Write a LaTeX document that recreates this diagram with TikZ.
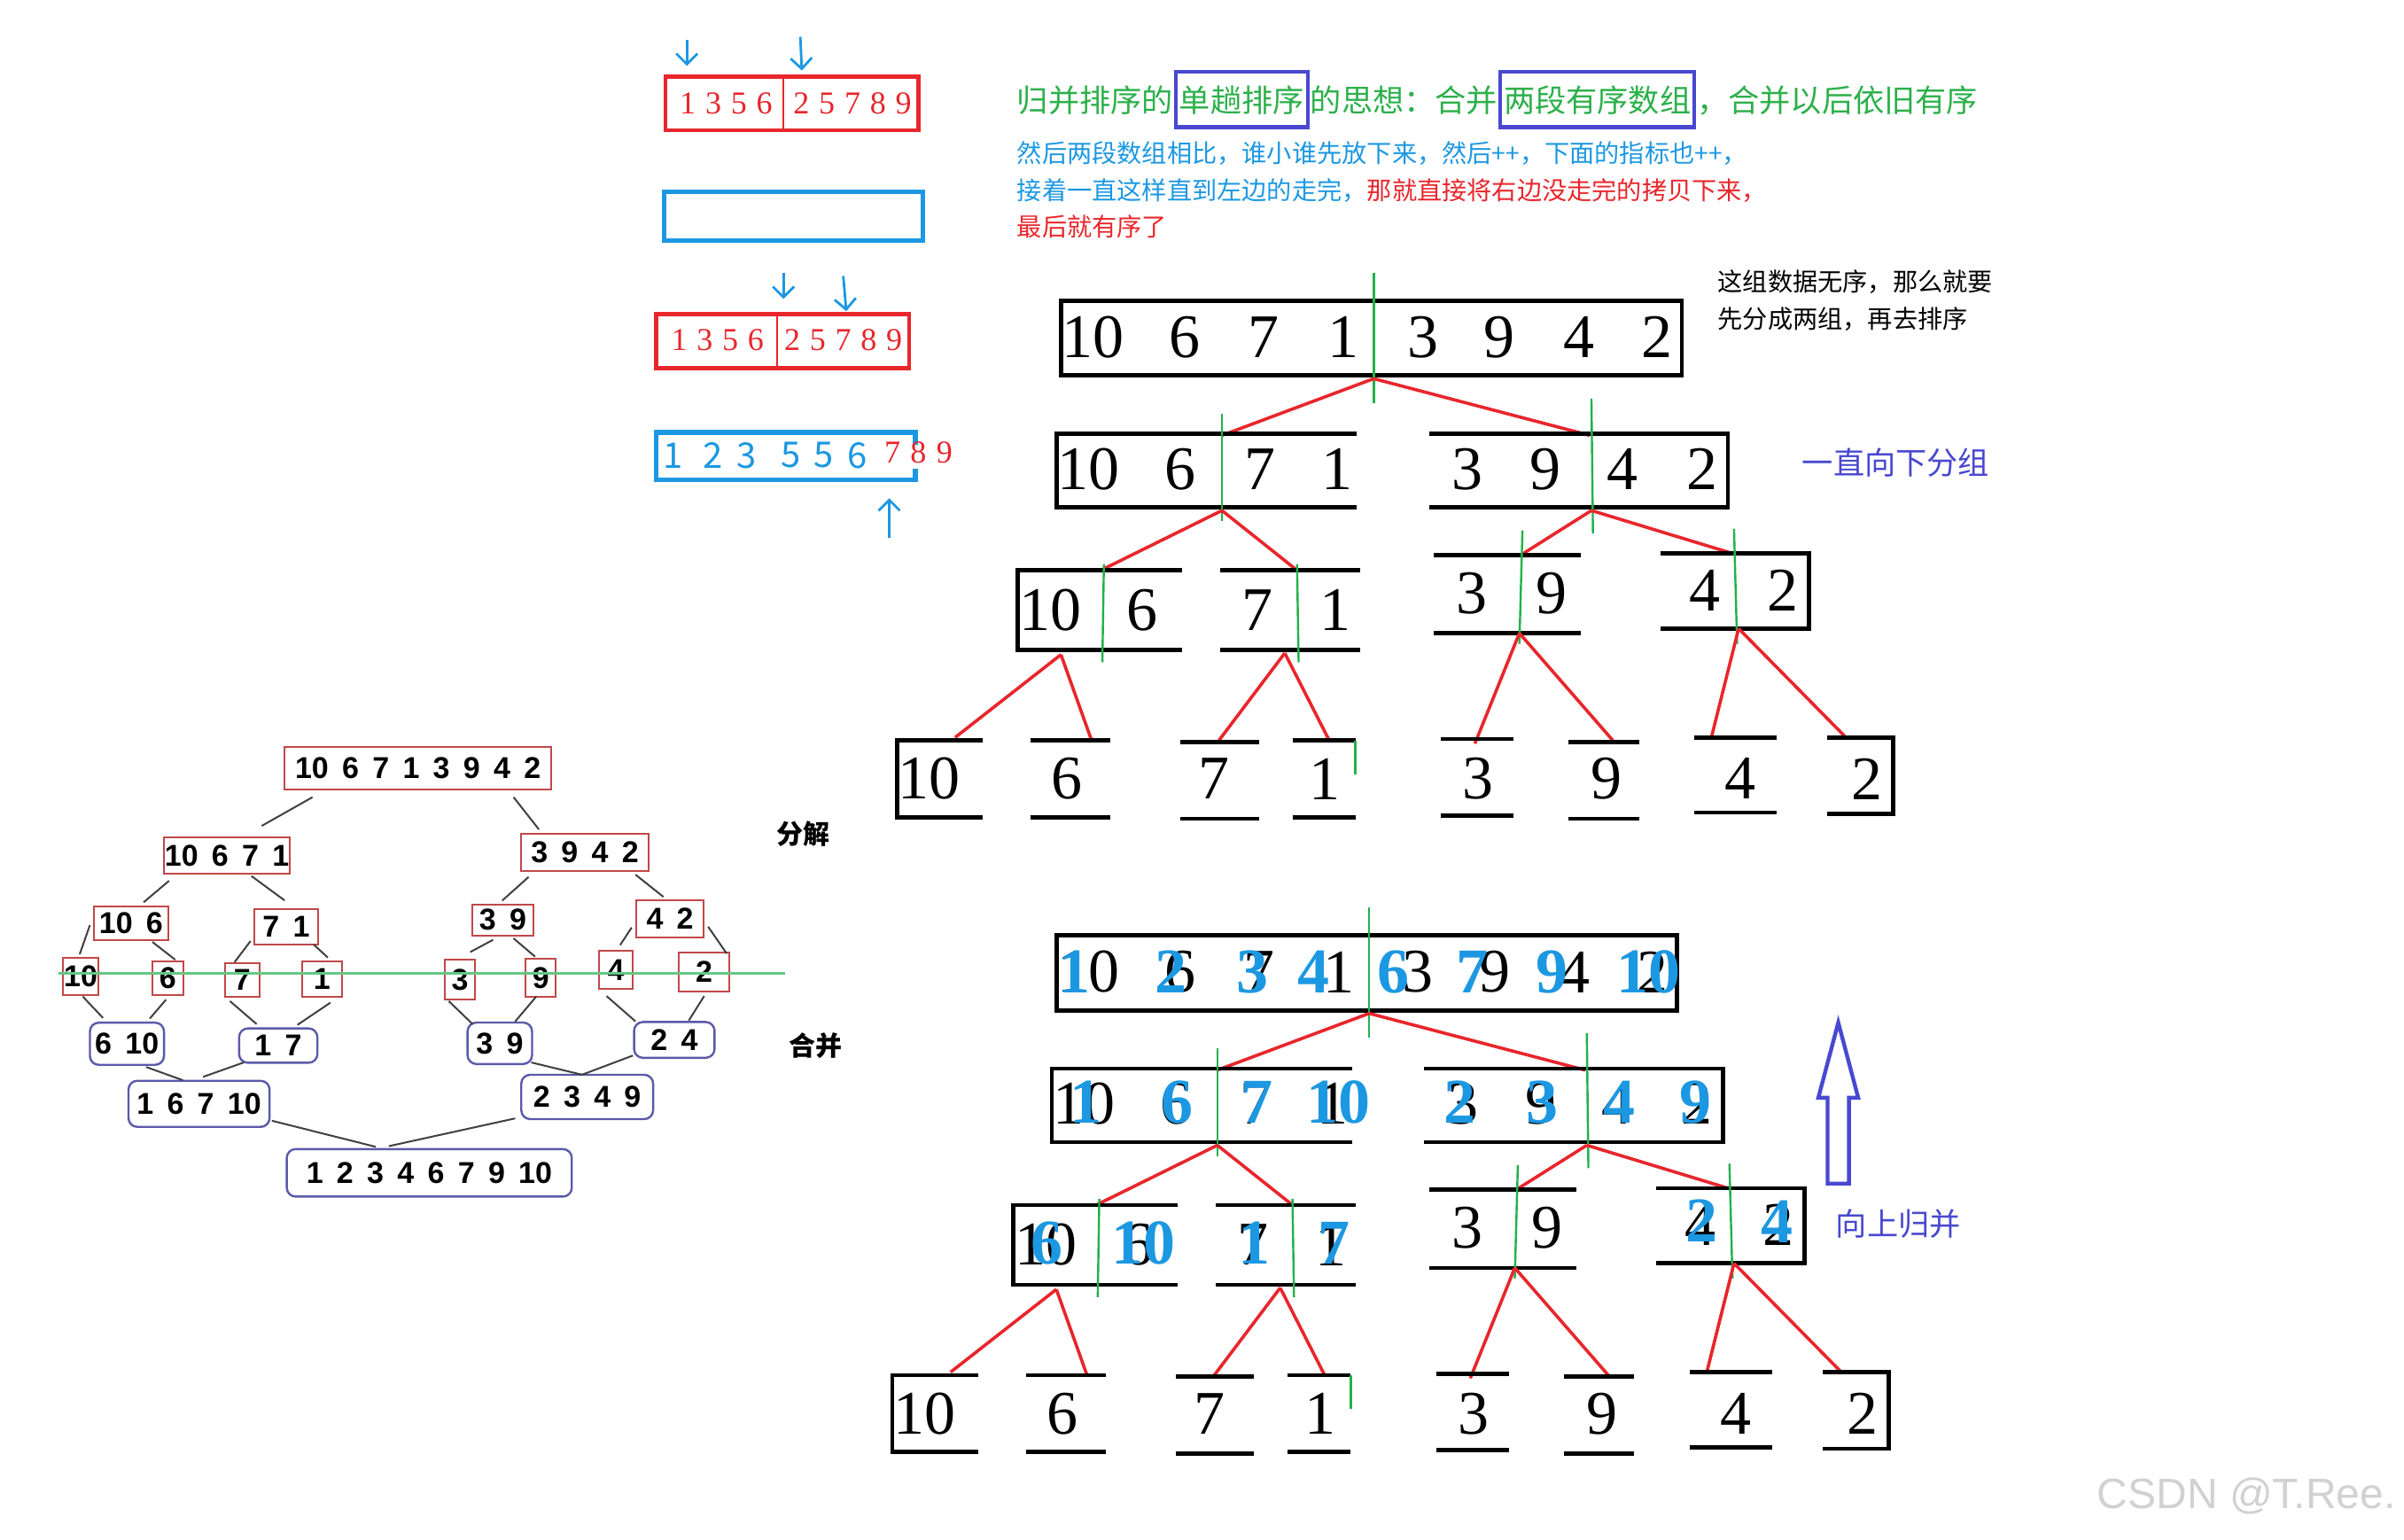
\documentclass[tikz,border=0pt]{standalone}
\usepackage{fontspec}
\setmainfont{Liberation Serif}
\setsansfont{Liberation Sans}
\newfontfamily\cjk{Noto Sans CJK SC}
\usetikzlibrary{positioning,arrows.meta}

\definecolor{tgreen}{HTML}{2DB04B}
\definecolor{tblue}{HTML}{1C98E2}
\definecolor{tred}{HTML}{E8262C}
\definecolor{bbox}{HTML}{4848D0}
\definecolor{lgreen}{HTML}{22B14C}
\definecolor{dvred}{HTML}{C04848}
\definecolor{mgblue}{HTML}{5A5AAA}

\tikzset{
  dig/.style={font=\fontsize{17.5}{17.5}\selectfont, inner sep=0pt},
  bdig/.style={font=\bfseries\fontsize{18}{18}\selectfont, text=tblue, inner sep=0pt},
  blk/.style={line width=1.2pt},
  gline/.style={lgreen, line width=0.6pt},
  rline/.style={tred, line width=0.9pt},
  hand/.style={tblue, line width=0.7pt, >={Straight Barb[length=3pt,width=6pt]}},
  rbox/.style={tred, line width=1.2pt},
  bbx/.style={tblue, line width=1.3pt},
  rnum/.style={text=tred, inner sep=0pt, font=\fontsize{9}{9}\selectfont\spaceskip.3em\relax},
  hnum/.style={text=tblue, inner sep=0pt, font=\cjk\fontsize{10}{10}\selectfont},
  gtxt/.style={text=tgreen, inner xsep=0pt, inner ysep=2.8pt, text height=0.85em, text depth=0.15em,
    font=\cjk\fontsize{8.8}{8.8}\selectfont},
  hbox/.style={draw=bbox, line width=1.1pt, inner xsep=1pt},
  note/.style={inner sep=0pt, font=\cjk\fontsize{7.05}{7.05}\selectfont},
  dv/.style={draw=dvred, line width=0.5pt, fill=white, inner sep=0pt,
    font=\sffamily\bfseries\fontsize{8.5}{9}\selectfont\spaceskip.45em\relax},
  mg/.style={draw=mgblue, line width=0.6pt, rounded corners=2.5pt, fill=white, inner sep=0pt,
    font=\sffamily\bfseries\fontsize{8.5}{9}\selectfont\spaceskip.45em\relax},
  tl/.style={draw=black!75, line width=0.5pt},
}

% one split tree, #1 prefixes the node names
\newcommand{\splittree}[1]{%
  \draw[blk] (692,196) rectangle (1097,245);
  \foreach \x/\nm [count=\i] in {713/10,773/6,824/7,876/1,928/3,978/9,1030/4,1081/2}
    \node[dig] (#1r\i) at (\x,220) {\nm};
  \draw[gline] (896,178) -- (896,263);
  \draw[rline] (896,247) -- (797,284);
  \draw[rline] (896,247) -- (1037,284);
  % halves
  \draw[blk] (885,283) -- (689,283) -- (689,331) -- (885,331);
  \draw[blk] (932,283) -- (1127,283) -- (1127,331) -- (932,331);
  \foreach \x/\nm [count=\i] in {710/10,770/6,822/7,872/1,957/3,1008/9,1058/4,1110/2}
    \node[dig] (#1h\i) at (\x,306) {\nm};
  \draw[gline] (797,270) -- (797,340);
  \draw[gline] (1038,260) -- (1039,348);
  \draw[rline] (797,333) -- (718,372);
  \draw[rline] (797,333) -- (846,372);
  \draw[rline] (1038,333) -- (992,362);
  \draw[rline] (1038,333) -- (1130,361);
  % pairs
  \draw[blk] (771,372) -- (664,372) -- (664,424) -- (771,424);
  \draw[blk] (796,372) -- (887,372) (796,424) -- (887,424);
  \draw[blk] (935,362) -- (1031,362) (935,413) -- (1031,413);
  \draw[blk] (1083,361) -- (1180,361) -- (1180,410) -- (1083,410);
  \node[dig] (#1p1) at (685,398) {10};
  \node[dig] (#1p2) at (745,398) {6};
  \node[dig] (#1p3) at (820,398) {7};
  \node[dig] (#1p4) at (871,398) {1};
  \node[dig] (#1p5) at (960,387) {3};
  \node[dig] (#1p6) at (1012,387) {9};
  \node[dig] (#1p7) at (1112,385) {4};
  \node[dig] (#1p8) at (1163,385) {2};
  \draw[gline] (720,368) -- (719,432);
  \draw[gline] (846,368) -- (847,432);
  \draw[gline] (993,346) -- (991,420);
  \draw[gline] (1131,345) -- (1133,420);
  \draw[rline] (692,427) -- (623,481);
  \draw[rline] (692,427) -- (712,483);
  \draw[rline] (838,426) -- (795,483);
  \draw[rline] (838,426) -- (867,483);
  \draw[rline] (991,413) -- (962,485);
  \draw[rline] (991,413) -- (1052,483);
  \draw[rline] (1134,410) -- (1116,482);
  \draw[rline] (1134,410) -- (1203,480);
  % single elements
  \draw[blk] (641,483) -- (585,483) -- (585,533) -- (641,533);
  \draw[blk] (672,483) -- (724,483) (672,533) -- (724,533);
  \draw[blk] (770,484) -- (821,484) (770,534) -- (821,534);
  \draw[blk] (843,483) -- (884,483) (843,533) -- (884,533);
  \draw[blk] (940,482) -- (987,482) (940,532) -- (987,532);
  \draw[blk] (1023,484) -- (1069,484) (1023,534) -- (1069,534);
  \draw[blk] (1105,481) -- (1159,481) (1105,530) -- (1159,530);
  \draw[blk] (1192,481) -- (1235,481) -- (1235,531) -- (1192,531);
  \draw[gline] (884,483) -- (884,505);
  \foreach \x/\nm [count=\i] in {606/10,696/6,792/7,864/1,964/3,1048/9,1135/4,1218/2}
    \node[dig] (#1s\i) at (\x,508) {\nm};
}

\begin{document}
\begin{tikzpicture}[x=0.4325pt, y=-0.4325pt]
\fill[white] (0,0) rectangle (1568,1004);
\useasboundingbox (0,0) rectangle (1568,1004);

% merge step with two pointers
\draw[hand,->] (448,26) -- (448,43);
\draw[hand,->] (522,24) -- (523,46);
\draw[rbox] (434,50) rectangle (599,85);
\draw[tred, line width=0.5pt] (511,50) -- (511,85);
\node[rnum] (ra1) at (473.6,67.5) {1 3 5 6};
\node[rnum] (ra2) at (556,67.5) {2 5 7 8 9};
\draw[bbx] (433,125) rectangle (602,157);

\draw[hand,->] (511,178) -- (511,195);
\draw[hand,->] (550,180) -- (552,203);
\draw[rbox] (428,205) rectangle (593,240);
\draw[tred, line width=0.5pt] (507,205) -- (507,240);
\node[rnum] (rb1) at (468,222) {1 3 5 6};
\node[rnum] (rb2) at (550,222) {2 5 7 8 9};

\draw[bbx] (597,290) -- (597,282) -- (428,282) -- (428,313) -- (597,313) -- (597,306);
\foreach \x/\nm [count=\i] in {439/1,465/2,487/3,516/5,537/5,559/6}
  \node[hnum] (hb\i) at (\x,297) {\nm};
\foreach \x/\nm [count=\i] in {582/7,599/8,616/9}
  \node[rnum] (hr\i) at (\x,295) {\nm};
\draw[hand,->] (580,351) -- (580,325);

% notes
\node[gtxt, anchor=west] (g1) at (663,65) {归并排序的};
\node[gtxt, hbox, right=0pt of g1] (g2) {单趟排序};
\node[gtxt, right=0pt of g2] (g3) {的思想：合并};
\node[gtxt, hbox, right=0pt of g3] (g4) {两段有序数组};
\node[gtxt, right=0pt of g4] (g5) {，合并以后依旧有序};
\node[note, text=tblue, anchor=west] (n1) at (663,100) {然后两段数组相比，谁小谁先放下来，然后++，下面的指标也++，};
\node[note, text=tblue, anchor=west] (n2) at (663,124) {接着一直这样直到左边的走完，\textcolor{tred}{那就直接将右边没走完的拷贝下来，}};
\node[note, text=tred, anchor=west] (n3) at (663,148) {最后就有序了};
\node[note, anchor=west] (n4) at (1120,184) {这组数据无序，那么就要};
\node[note, anchor=west] (n5) at (1120,208) {先分成两组，再去排序};
\node[note, text=bbox, font=\cjk\fontsize{8.8}{8.8}\selectfont, anchor=west] (n6) at (1175,302) {一直向下分组};

% split trees
\splittree{a}
\begin{scope}[shift={(-3,414)}]
  \splittree{b}
\end{scope}

% merged values written over the lower tree
\foreach \x/\nm [count=\i] in {701/1,764/2,817/3,857/4,909/6,960/7,1012/9,1075/10}
  \node[bdig] (m0\i) at (\x,634) {\nm};
\foreach \x/\nm [count=\i] in {708/1,768/6,820/7,873/10,952/2,1006/3,1056/4,1106/9}
  \node[bdig] (m1\i) at (\x,719) {\nm};
\foreach \x/\nm [count=\i] in {683/6,746/10,818/1,870/7}
  \node[bdig] (m2\i) at (\x,811) {\nm};
\node[bdig] (m25) at (1110,796) {2};
\node[bdig] (m26) at (1159,797) {4};

\draw[bbox, line width=1.1pt] (1199,667) -- (1212,716) -- (1206,716) -- (1206,772)
  -- (1192,772) -- (1192,716) -- (1186,716) -- cycle;
\node[note, text=bbox, font=\cjk\fontsize{8.8}{8.8}\selectfont, anchor=west] (n7) at (1197,798) {向上归并};

% small split / merge tree
\node[dv, minimum width=75.3pt, minimum height=12.1pt] (d0) at (272.6,501) {10 6 7 1 3 9 4 2};
\node[dv, minimum width=35.5pt, minimum height=10.4pt] (d1) at (148,558) {10 6 7 1};
\node[dv, minimum width=35.9pt, minimum height=10.4pt] (d2) at (381.5,556) {3 9 4 2};
\node[dv, minimum width=21.2pt, minimum height=9.5pt] (d3) at (85.5,602) {10 6};
\node[dv, minimum width=18.2pt, minimum height=9.9pt] (d4) at (186.7,604.5) {7 1};
\node[dv, minimum width=17.3pt, minimum height=8.7pt] (d5) at (328,600) {3 9};
\node[dv, minimum width=19pt, minimum height=10.4pt] (d6) at (437,599.4) {4 2};
\node[dv, minimum width=9.8pt, minimum height=10.6pt] (e1) at (52.6,636.8) {10};
\node[dv, minimum width=8.7pt, minimum height=9.5pt] (e2) at (109.4,638) {6};
\node[dv, minimum width=9.9pt, minimum height=9.5pt] (e3) at (158,639) {7};
\node[dv, minimum width=11.2pt, minimum height=9.9pt] (e4) at (210,638.5) {1};
\node[dv, minimum width=8.7pt, minimum height=11.2pt] (e5) at (300,639) {3};
\node[dv, minimum width=8.4pt, minimum height=10.6pt] (e6) at (352.7,637.8) {9};
\node[dv, minimum width=9.6pt, minimum height=10.8pt] (e7) at (401.7,632.5) {4};
\node[dv, minimum width=14.3pt, minimum height=11.2pt] (e8) at (459.2,634) {2};
\node[mg, minimum width=20.9pt, minimum height=11.9pt] (k1) at (82.8,680.8) {6 10};
\node[mg, minimum width=22.1pt, minimum height=9.7pt] (k2) at (181.5,682) {1 7};
\node[mg, minimum width=18.2pt, minimum height=11.7pt] (k3) at (326,680.5) {3 9};
\node[mg, minimum width=22.7pt, minimum height=10.1pt] (k4) at (439.8,678.3) {2 4};
\node[mg, minimum width=39.8pt, minimum height=13pt] (k5) at (129.8,720) {1 6 7 10};
\node[mg, minimum width=37.2pt, minimum height=12.5pt] (k6) at (383,715.5) {2 3 4 9};
\node[mg, minimum width=80.4pt, minimum height=13.4pt] (k7) at (280,765) {1 2 3 4 6 7 9 10};
\draw[lgreen!70, line width=0.8pt] (38,635) -- (512,635);

\draw[tl] (203.8,520) -- (170.7,538.7);
\draw[tl] (335,520) -- (351.5,541);
\draw[tl] (110.3,574.5) -- (93.7,588.5);
\draw[tl] (164,571.4) -- (185.6,587.3);
\draw[tl] (344.8,572) -- (327.6,587.4);
\draw[tl] (414.5,570.5) -- (432.7,585);
\draw[tl] (58.6,603.5) -- (52,622.4);
\draw[tl] (99.4,614.4) -- (114.3,626);
\draw[tl] (163.4,613.8) -- (153,627.6);
\draw[tl] (204.5,616) -- (213.8,624.6);
\draw[tl] (321.6,613) -- (306.7,621);
\draw[tl] (334.9,612) -- (349,624);
\draw[tl] (412,605) -- (404.5,616.4);
\draw[tl] (461.9,604.5) -- (474,622);
\draw[tl] (54,650) -- (67.2,664);
\draw[tl] (108.3,652) -- (97.7,664.4);
\draw[tl] (150,653) -- (167.4,668);
\draw[tl] (215.5,654) -- (194,668.5);
\draw[tl] (292.7,653) -- (308.3,668);
\draw[tl] (349.8,650) -- (336,666.3);
\draw[tl] (395.6,649.7) -- (414.5,666.2);
\draw[tl] (459.3,649.7) -- (449.3,665.6);
\draw[tl] (95.4,696) -- (119.3,704.6);
\draw[tl] (159,693) -- (132.5,702.4);
\draw[tl] (346.5,693) -- (379.6,701);
\draw[tl] (412.8,688.5) -- (379.6,701);
\draw[tl] (177.3,731) -- (245,748);
\draw[tl] (336,729.5) -- (253.6,747.6);

\node[font=\cjk\bfseries\fontsize{7.5}{7.5}\selectfont, inner sep=0pt] (fj) at (524,544) {分解};
\node[font=\cjk\bfseries\fontsize{7.5}{7.5}\selectfont, inner sep=0pt] (hb) at (532,682) {合并};

\node[anchor=east, text=black!18, font=\sffamily\fontsize{12}{12}\selectfont, inner sep=0pt] (wm) at (1563,976) {CSDN @T.Ree.};
\end{tikzpicture}
\end{document}
